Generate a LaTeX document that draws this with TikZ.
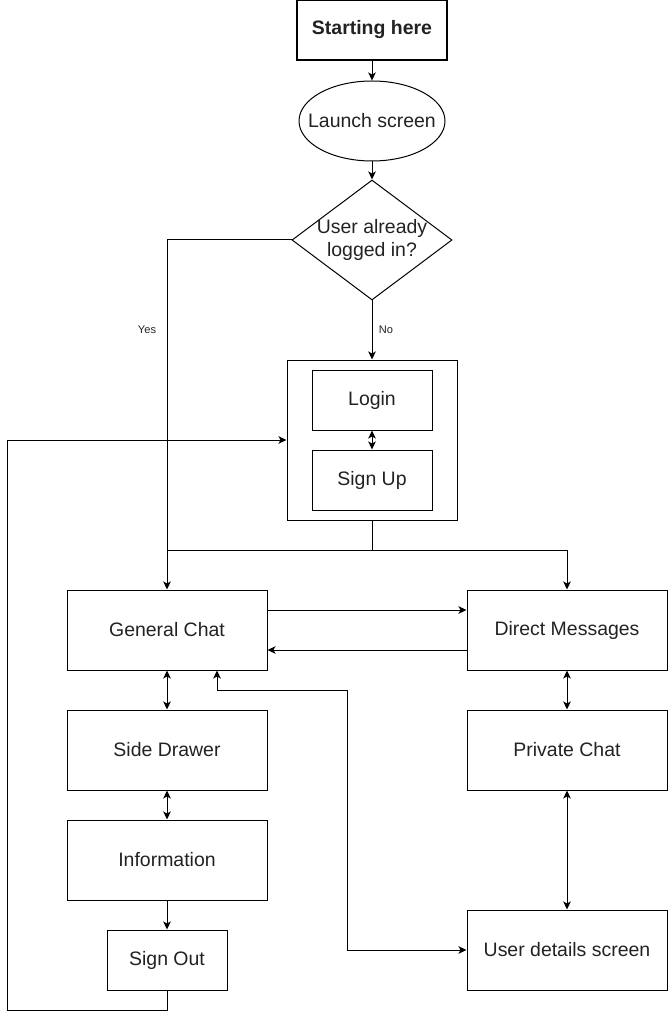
\documentclass[tikz,border=0pt]{standalone}
\usepackage{fontspec}
\setmainfont{Liberation Sans}
\usetikzlibrary{shapes.geometric,arrows.meta,calc}
\def\px{*0.75pt}
\definecolor{txt}{HTML}{222222}
\tikzset{
  box/.style={draw, line width=1\px, rectangle, inner sep=0pt, text=txt, font=\fontsize{14.6pt}{17pt}\selectfont},
  conn/.style={line width=1\px, -{Stealth[length=8\px, width=7.5\px, inset=2\px]}},
  dconn/.style={line width=1\px, {Stealth[length=8\px, width=7.5\px, inset=2\px]}-{Stealth[length=8\px, width=7.5\px, inset=2\px]}},
  plain/.style={line width=1\px},
  lab/.style={text=txt, font=\fontsize{8.3pt}{10pt}\selectfont, inner sep=1pt},
  freetext/.style={text=txt, font=\fontsize{14.6pt}{17.5pt}\selectfont, align=center, inner sep=0pt}
}
\begin{document}
\begin{tikzpicture}[x=0.75pt, y=-0.75pt]
\useasboundingbox (0,0) rectangle (668,1019);
% nodes
\node[box, line width=1.6\px, minimum width=150\px, minimum height=60\px, font=\fontsize{14.6pt}{17pt}\selectfont\bfseries] (start) at (372,30) {Starting here};
\node[box, ellipse, minimum width=146\px, minimum height=80\px] (launch) at (372,121) {};
\node[freetext] (launchtext) at (372,121) {Launch screen};
\node[box, diamond, minimum width=160\px, minimum height=120\px] (dia) at (372,240) {};
\node[freetext] (diatext) at (372,240) {User already\\logged in?};
\node[box, minimum width=170\px, minimum height=160\px] (cont) at (372,440) {};
\node[box, minimum width=120\px, minimum height=60\px] (login) at (372,400) {Login};
\node[box, minimum width=120\px, minimum height=60\px] (signup) at (372,480) {Sign Up};
\node[box, minimum width=200\px, minimum height=80\px] (general) at (167,630) {General Chat};
\node[box, minimum width=200\px, minimum height=80\px] (dm) at (567,630) {Direct Messages};
\node[box, minimum width=200\px, minimum height=80\px] (side) at (167,750) {Side Drawer};
\node[box, minimum width=200\px, minimum height=80\px] (priv) at (567,750) {Private Chat};
\node[box, minimum width=200\px, minimum height=80\px] (info) at (167,860) {Information};
\node[box, minimum width=120\px, minimum height=60\px] (signout) at (167,960) {Sign Out};
\node[box, minimum width=200\px, minimum height=80\px] (user) at (567,950) {User details screen};
% helper coordinates
\coordinate (yescorner) at (167,240);
\coordinate (junc) at (372,550);
\coordinate (juncL) at (167,550);
\coordinate (bl1) at (167,1010);
\coordinate (bl2) at (7,1010);
\coordinate (bl3) at (7,440);
\coordinate (gu1) at (217,690);
\coordinate (gu2) at (347,690);
\coordinate (gu3) at (347,950);
% connectors
\draw[conn] (start) -- (launch);
\draw[conn] (launch) -- (dia.north);
\draw[conn] (dia.west) -- (yescorner) -- (general.north);
\node[lab] (yes) at (147,330) {Yes};
\draw[conn] (dia.south) -- (cont.north);
\node[lab, fill=white] (no) at (386,330) {No};
\draw[dconn] (login) -- (signup);
\draw[conn] (cont.south) -- (junc) -| (dm.north);
\draw[plain] (junc) -- (juncL);
\draw[conn] ([yshift=20\px]general.east) -- ([yshift=20\px]dm.west);
\draw[conn] ([yshift=-20\px]dm.west) -- ([yshift=-20\px]general.east);
\draw[dconn] (general) -- (side);
\draw[dconn] (side) -- (info);
\draw[conn] (info) -- (signout);
\draw[conn] (signout.south) -- (bl1) -- (bl2) -- (bl3) -- (cont.west);
\draw[dconn] (dm) -- (priv);
\draw[dconn] (priv) -- (user);
\draw[dconn] ([xshift=50\px]general.south) -- (gu1) -- (gu2) -- (gu3) -- (user.west);
\end{tikzpicture}
\end{document}
